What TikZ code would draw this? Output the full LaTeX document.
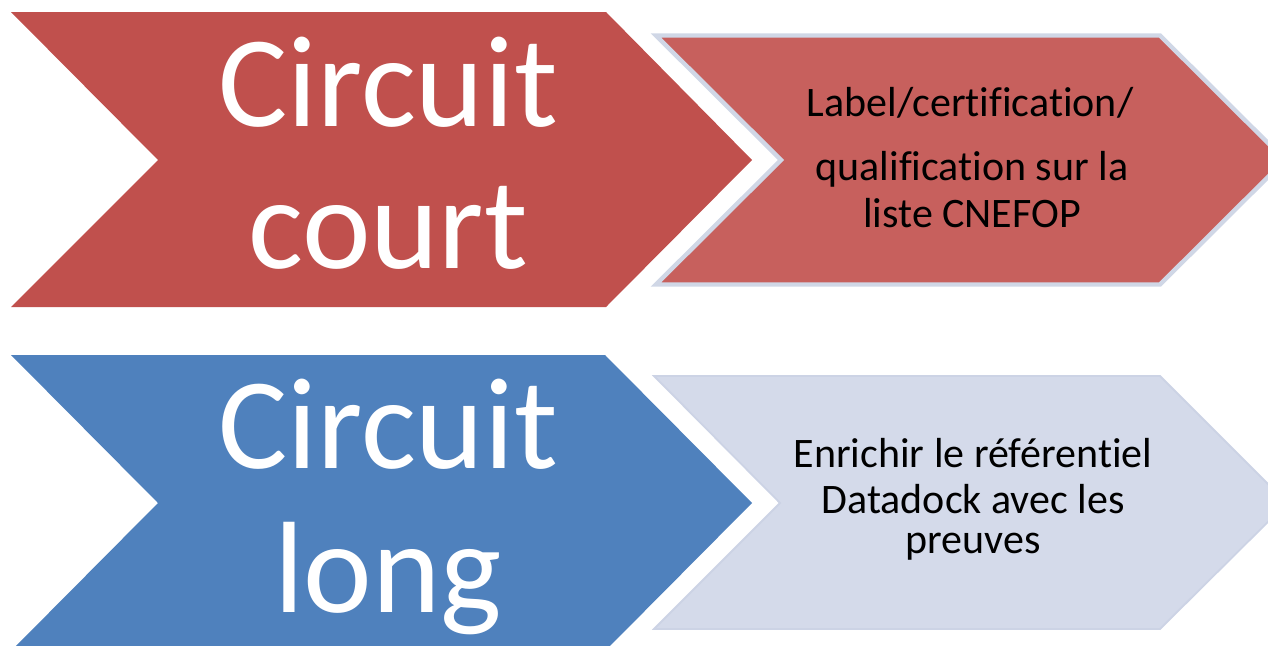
\documentclass[tikz,border=0pt]{standalone}
\usepackage{fontspec}
\setmainfont{Carlito}[Ligatures=NoCommon]
\definecolor{bigred}{HTML}{C0504D}
\definecolor{lightred}{HTML}{C7605D}
\definecolor{redborder}{HTML}{D0D7E6}
\definecolor{bigblue}{HTML}{4F81BD}
\definecolor{lavender}{HTML}{D4DAEA}
\definecolor{lavborder}{HTML}{CCD3E5}
\tikzset{
  bigtxt/.style={anchor=base, text=white, font=\fontsize{130}{142}\selectfont, inner sep=0pt},
  smalltxt/.style={anchor=base, text=black, font=\fontsize{42}{50}\selectfont, inner sep=0pt},
}
\begin{document}
\begin{tikzpicture}[x=1pt,y=-1pt]
\useasboundingbox (0,0) rectangle (1268,645);
\begin{scope}
\clip (0,0) rectangle (1268,645);
% top row
\fill[bigred] (11,12) -- (606,12) -- (752,160) -- (606,307) -- (11,307) -- (158,160) -- cycle;
\filldraw[fill=lightred, draw=redborder, line width=4.4pt, line join=miter]
  (656,35.5) -- (1160,35.5) -- (1285,160) -- (1160,284.5) -- (656,284.5) -- (781,160) -- cycle;
% bottom row
\fill[bigblue] (11,355) -- (605,355) -- (752,503) -- (605,651) -- (11,651) -- (158,503) -- cycle;
\filldraw[fill=lavender, draw=lavborder, line width=1.8pt, line join=miter]
  (654,376) -- (1160,376) -- (1287,503) -- (1160,629) -- (654,629) -- (780,503) -- cycle;
\end{scope}
% texts
\node[bigtxt] (c1a) at (388,126) {Circuit};
\node[bigtxt] (c1b) at (388,268) {court};
\node[bigtxt] (c2a) at (388,468) {Circuit};
\node[bigtxt] (c2b) at (388,612) {long};
\node[smalltxt] (t1a) at (970,116) {Label/certification/};
\node[smalltxt] (t1b) at (972,180) {qualification sur la};
\node[smalltxt] (t1c) at (972,227) {liste CNEFOP};
\node[smalltxt] (t2a) at (973,467) {Enrichir le référentiel};
\node[smalltxt] (t2b) at (973,513) {Datadock avec les};
\node[smalltxt] (t2c) at (973,553) {preuves};
\end{tikzpicture}
\end{document}
